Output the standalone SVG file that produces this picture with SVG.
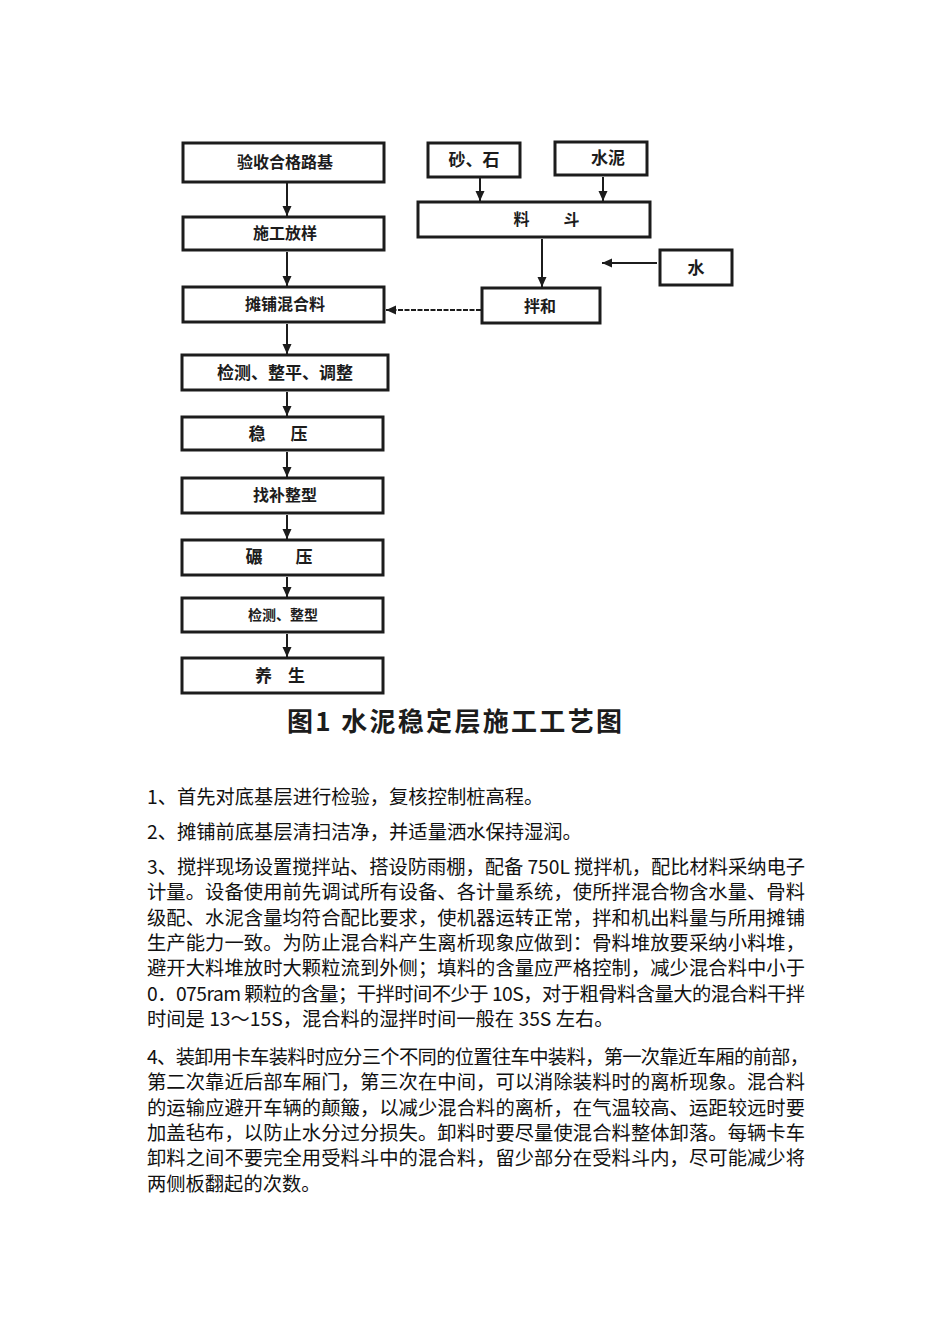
<svg xmlns="http://www.w3.org/2000/svg" width="950" height="1344" viewBox="0 0 950 1344">
<style>
.box{fill:#fff;stroke:#1c1c1c;stroke-width:3}
.bt{font-family:"Noto Sans CJK SC","Noto Sans CJK JP",sans-serif;font-weight:bold;font-size:16px;fill:#1c1c1c;text-anchor:middle}
.cap{font-family:"Noto Sans CJK SC",sans-serif;font-weight:bold;font-size:26px;fill:#1c1c1c}
.p{font-family:"Noto Sans CJK SC","Noto Sans CJK JP",sans-serif;font-size:19.3px;fill:#111}
.ln{stroke:#1c1c1c;stroke-width:2;fill:none}
</style>
<defs>
<marker id="ah" markerUnits="userSpaceOnUse" markerWidth="10" markerHeight="10" viewBox="0 0 10 10" refX="10" refY="5" orient="auto">
<path d="M0,0.5 L10,5 L0,9.5 Z" fill="#1c1c1c"/>
</marker>
</defs>
<rect width="950" height="1344" fill="#fff"/>
<g id="connectors">
<line class="ln" x1="287" y1="183" x2="287" y2="216" marker-end="url(#ah)"/>
<line class="ln" x1="287" y1="252" x2="287" y2="286" marker-end="url(#ah)"/>
<line class="ln" x1="287" y1="324" x2="287" y2="354" marker-end="url(#ah)"/>
<line class="ln" x1="287" y1="392" x2="287" y2="416" marker-end="url(#ah)"/>
<line class="ln" x1="287" y1="452" x2="287" y2="477" marker-end="url(#ah)"/>
<line class="ln" x1="287" y1="515" x2="287" y2="539" marker-end="url(#ah)"/>
<line class="ln" x1="287" y1="577" x2="287" y2="597" marker-end="url(#ah)"/>
<line class="ln" x1="287" y1="634" x2="287" y2="657" marker-end="url(#ah)"/>
<line class="ln" x1="480" y1="178" x2="480" y2="201" marker-end="url(#ah)"/>
<line class="ln" x1="603" y1="177" x2="603" y2="201" marker-end="url(#ah)"/>
<line class="ln" x1="542" y1="239" x2="542" y2="287" marker-end="url(#ah)"/>
<line class="ln" x1="657" y1="263" x2="602" y2="263" marker-end="url(#ah)"/>
<line class="ln" x1="481" y1="310" x2="386" y2="310" marker-end="url(#ah)" stroke-dasharray="5,1.5"/>
</g>
<g id="n1"><rect class="box" x="183" y="143" width="201" height="39"/><text class="bt" x="285" y="168">验收合格路基</text></g>
<g id="n2"><rect class="box" x="183" y="217" width="201" height="33"/><text class="bt" x="285" y="239">施工放样</text></g>
<g id="n3"><rect class="box" x="183" y="287" width="201" height="35"/><text class="bt" x="285" y="310">摊铺混合料</text></g>
<g id="n4"><rect class="box" x="182" y="355" width="206" height="35"/><text class="bt" x="285" y="379" style="font-size:17px">检测、整平、调整</text></g>
<g id="n5"><rect class="box" x="182" y="417" width="201" height="33"/><text class="bt" x="280" y="440" style="font-size:17px;letter-spacing:4px">稳　压</text></g>
<g id="n6"><rect class="box" x="182" y="478" width="201" height="35"/><text class="bt" x="285" y="501">找补整型</text></g>
<g id="n7"><rect class="box" x="182" y="540" width="201" height="35"/><text class="bt" x="283" y="563" style="font-size:17px;letter-spacing:8px">碾　压</text></g>
<g id="n8"><rect class="box" x="182" y="598" width="201" height="34"/><text class="bt" x="283" y="620" style="font-size:14px">检测、整型</text></g>
<g id="n9"><rect class="box" x="182" y="658" width="201" height="35"/><text class="bt" x="283" y="682" style="font-size:17px;letter-spacing:6px">养 生</text></g>
<g id="n10"><rect class="box" x="428" y="143" width="92" height="34"/><text class="bt" x="474" y="166" style="font-size:17px">砂、石</text></g>
<g id="n11"><rect class="box" x="555" y="142" width="92" height="33"/><text class="bt" x="608" y="164" style="font-size:17px">水泥</text></g>
<g id="n12"><rect class="box" x="418" y="202" width="232" height="35"/><text class="bt" x="551" y="225" style="font-size:16px;letter-spacing:9px">料　斗</text></g>
<g id="n13"><rect class="box" x="660" y="250" width="72" height="35"/><text class="bt" x="696" y="274" style="font-size:17px">水</text></g>
<g id="n14"><rect class="box" x="482" y="288" width="118" height="35"/><text class="bt" x="540" y="312">拌和</text></g>
<text class="cap" x="287" y="731" textLength="335" lengthAdjust="spacing">图1  水泥稳定层施工工艺图</text>
<g id="body">
<text class="p" x="147" y="804">1、首先对底基层进行检验，复核控制桩高程。</text>
<text class="p" x="147" y="839">2、摊铺前底基层清扫洁净，并适量洒水保持湿润。</text>
<text class="p" x="147" y="874" textLength="658" lengthAdjust="spacing">3、搅拌现场设置搅拌站、搭设防雨棚，配备 750L 搅拌机，配比材料采纳电子</text>
<text class="p" x="147" y="899.3" textLength="658" lengthAdjust="spacing">计量。设备使用前先调试所有设备、各计量系统，使所拌混合物含水量、骨料</text>
<text class="p" x="147" y="924.6" textLength="658" lengthAdjust="spacing">级配、水泥含量均符合配比要求，使机器运转正常，拌和机出料量与所用摊铺</text>
<text class="p" x="147" y="949.9" textLength="658" lengthAdjust="spacing">生产能力一致。为防止混合料产生离析现象应做到：骨料堆放要采纳小料堆，</text>
<text class="p" x="147" y="975.2" textLength="658" lengthAdjust="spacing">避开大料堆放时大颗粒流到外侧；填料的含量应严格控制，减少混合料中小于</text>
<text class="p" x="147" y="1000.5" textLength="658" lengthAdjust="spacing">0．075ram 颗粒的含量；干拌时间不少于 10S，对于粗骨料含量大的混合料干拌</text>
<text class="p" x="147" y="1025.8">时间是 13～15S，混合料的湿拌时间一般在 35S 左右。</text>
<text class="p" x="147" y="1064" textLength="662" lengthAdjust="spacing">4、装卸用卡车装料时应分三个不同的位置往车中装料，第一次靠近车厢的前部，</text>
<text class="p" x="147" y="1089.3" textLength="658" lengthAdjust="spacing">第二次靠近后部车厢门，第三次在中间，可以消除装料时的离析现象。混合料</text>
<text class="p" x="147" y="1114.6" textLength="658" lengthAdjust="spacing">的运输应避开车辆的颠簸，以减少混合料的离析，在气温较高、运距较远时要</text>
<text class="p" x="147" y="1139.9" textLength="658" lengthAdjust="spacing">加盖毡布，以防止水分过分损失。卸料时要尽量使混合料整体卸落。每辆卡车</text>
<text class="p" x="147" y="1165.2" textLength="658" lengthAdjust="spacing">卸料之间不要完全用受料斗中的混合料，留少部分在受料斗内，尽可能减少将</text>
<text class="p" x="147" y="1190.5">两侧板翻起的次数。</text>
</g>
</svg>
